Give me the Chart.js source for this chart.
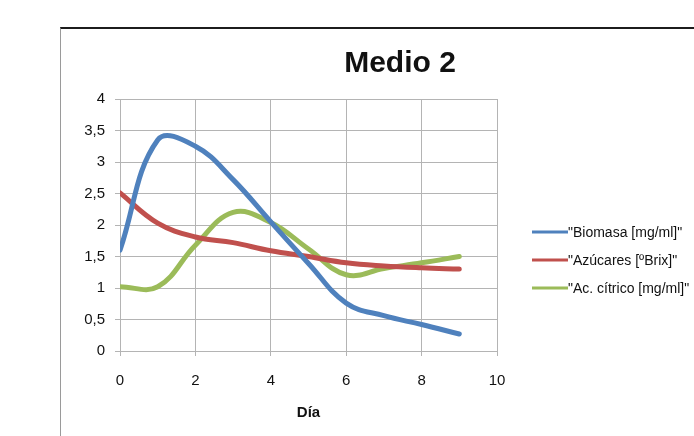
<!DOCTYPE html>
<html>
<head>
<meta charset="utf-8">
<script src="https://cdn.jsdelivr.net/npm/chart.js@4/dist/chart.umd.min.js"></script>
<style>
  html, body { margin: 0; padding: 0; background: #fff; overflow: hidden; width: 694px; height: 436px; }
  #frame { position: absolute; left: 60px; top: 27px; width: 1000px; height: 1000px;
           border-top: 2px solid #1c1c1c; border-left: 1px solid #9a9a9a; box-sizing: border-box; }
  #wrap { position: absolute; left: 0; top: 0; width: 800px; height: 436px; }
</style>
</head>
<body>
<div id="frame"></div>
<div id="wrap"><canvas id="c" width="800" height="436"></canvas></div>
<script>
// Days of measurement
const dias = [0, 1, 2, 3, 4, 5, 6, 7, 8, 9];
// Series values
const biomasa   = [1.60, 3.35, 3.25, 2.72, 2.05, 1.39, 0.76, 0.56, 0.42, 0.27];
const azucares  = [2.51, 2.03, 1.81, 1.72, 1.59, 1.50, 1.40, 1.35, 1.32, 1.30];
const acCitrico = [1.02, 1.02, 1.68, 2.20, 2.04, 1.62, 1.21, 1.31, 1.40, 1.50];
// Series names
const seriesNames = ['"Biomasa [mg/ml]"', '"Azúcares [ºBrix]"', '"Ac. cítrico [mg/ml]"'];
const seriesColors = ['#4F81BD', '#C0504D', '#9BBB59'];
// Axis ticks
const xTicks = [0, 2, 4, 6, 8, 10];
const yTicks = [0, 0.5, 1, 1.5, 2, 2.5, 3, 3.5, 4];

const FONT = '"Liberation Sans", Arial, Helvetica, sans-serif';
const GRID = '#b4b4b4';

const toPoints = vals => dias.map((d, i) => ({ x: d, y: vals[i] }));

// Legend drawn in the space to the right of the plot
const sideLegend = {
  id: 'sideLegend',
  afterDraw(chart) {
    const ctx = chart.ctx;
    const area = chart.chartArea;
    const x0 = area.right + 35, x1 = x0 + 36;
    const rowY = [232, 260, 288];
    ctx.save();
    ctx.font = '14px ' + FONT;
    ctx.textBaseline = 'middle';
    ctx.textAlign = 'left';
    chart.data.datasets.forEach((ds, i) => {
      ctx.strokeStyle = ds.borderColor;
      ctx.lineWidth = 3;
      ctx.beginPath();
      ctx.moveTo(x0, rowY[i]);
      ctx.lineTo(x1, rowY[i]);
      ctx.stroke();
      ctx.fillStyle = '#111';
      ctx.fillText(ds.label, x1, rowY[i] + 1);
    });
    ctx.restore();
  }
};

new Chart(document.getElementById('c'), {
  type: 'line',
  data: {
    datasets: [biomasa, azucares, acCitrico].map((vals, i) => ({
      label: seriesNames[i],
      data: toPoints(vals),
      borderColor: seriesColors[i],
      backgroundColor: seriesColors[i],
      borderWidth: 5,
      pointRadius: 0,
      tension: 0.4,
      fill: false,
      borderCapStyle: 'round',
      borderJoinStyle: 'round'
    }))
  },
  options: {
    responsive: false,
    animation: false,
    events: [],
    layout: { padding: { left: 0, right: 0, top: 30, bottom: 10 } },
    plugins: {
      legend: { display: false },
      tooltip: { enabled: false },
      title: {
        display: true,
        text: 'Medio 2',
        color: '#111',
        font: { family: FONT, size: 30, weight: 'bold' },
        padding: { top: 16, bottom: 17 }
      }
    },
    scales: {
      x: {
        type: 'linear',
        min: 0, max: 10,
        afterBuildTicks: s => { s.ticks = xTicks.map(v => ({ value: v })); },
        afterFit: s => { s.height = 75; },
        grid: { color: GRID, lineWidth: 1, tickLength: 5, drawTicks: true },
        border: { color: GRID, width: 1 },
        ticks: { color: '#111', font: { family: FONT, size: 15 }, padding: 16, maxRotation: 0 },
        title: {
          display: true, text: 'Día', color: '#111',
          font: { family: FONT, size: 15, weight: 'bold' },
          padding: { top: 14, bottom: 4 }
        }
      },
      y: {
        min: 0, max: 4,
        afterBuildTicks: s => { s.ticks = yTicks.map(v => ({ value: v })); },
        afterFit: s => { s.width = 120; },
        grid: { color: GRID, lineWidth: 1, tickLength: 5, drawTicks: true },
        border: { color: GRID, width: 1 },
        ticks: {
          color: '#111', font: { family: FONT, size: 15 }, padding: 10,
          callback: v => String(v).replace('.', ',')
        }
      },
      // empty right-hand axis that reserves the legend column
      side: {
        type: 'linear',
        position: 'right',
        afterFit: s => { s.width = 303; },
        grid: { display: false },
        border: { display: false },
        ticks: { display: false }
      }
    }
  },
  plugins: [sideLegend]
});
</script>
</body>
</html>
